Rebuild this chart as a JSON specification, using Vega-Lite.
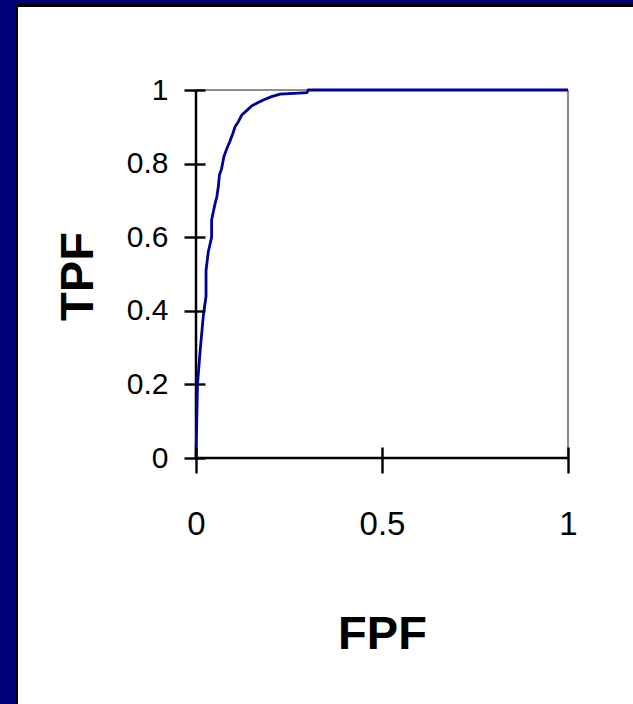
{
  "$schema": "https://vega.github.io/schema/vega-lite/v6.json",
  "width": 372,
  "height": 368,
  "autosize": {"type": "none"},
  "padding": {"left": 196, "top": 90, "right": 65, "bottom": 246},
  "background": "#00007a",
  "config": {"view": {"stroke": null}, "font": "Liberation Sans"},
  "datasets": {
    "roc": [
      {"i": 0, "fpf": 0.0, "tpf": 0.0},
      {"i": 1, "fpf": 0.002, "tpf": 0.1},
      {"i": 2, "fpf": 0.004, "tpf": 0.2},
      {"i": 3, "fpf": 0.011, "tpf": 0.29},
      {"i": 4, "fpf": 0.02, "tpf": 0.39},
      {"i": 5, "fpf": 0.027, "tpf": 0.44},
      {"i": 6, "fpf": 0.027, "tpf": 0.51},
      {"i": 7, "fpf": 0.033, "tpf": 0.56},
      {"i": 8, "fpf": 0.042, "tpf": 0.6},
      {"i": 9, "fpf": 0.042, "tpf": 0.647},
      {"i": 10, "fpf": 0.051, "tpf": 0.69},
      {"i": 11, "fpf": 0.056, "tpf": 0.71},
      {"i": 12, "fpf": 0.06, "tpf": 0.737},
      {"i": 13, "fpf": 0.063, "tpf": 0.769},
      {"i": 14, "fpf": 0.069, "tpf": 0.787},
      {"i": 15, "fpf": 0.075, "tpf": 0.819},
      {"i": 16, "fpf": 0.083, "tpf": 0.841},
      {"i": 17, "fpf": 0.091, "tpf": 0.86},
      {"i": 18, "fpf": 0.099, "tpf": 0.882},
      {"i": 19, "fpf": 0.105, "tpf": 0.9},
      {"i": 20, "fpf": 0.114, "tpf": 0.914},
      {"i": 21, "fpf": 0.123, "tpf": 0.932},
      {"i": 22, "fpf": 0.136, "tpf": 0.944},
      {"i": 23, "fpf": 0.15, "tpf": 0.957},
      {"i": 24, "fpf": 0.167, "tpf": 0.966},
      {"i": 25, "fpf": 0.181, "tpf": 0.973},
      {"i": 26, "fpf": 0.203, "tpf": 0.982},
      {"i": 27, "fpf": 0.226, "tpf": 0.989},
      {"i": 28, "fpf": 0.298, "tpf": 0.993},
      {"i": 29, "fpf": 0.302, "tpf": 1.0},
      {"i": 30, "fpf": 1.0, "tpf": 1.0}
    ]
  },
  "layer": [
    {
      "data": {"values": [{}]},
      "mark": {"type": "rect", "fill": "#000000"},
      "encoding": {
        "x": {"datum": -0.4839, "type": "quantitative", "scale": {"domain": [0, 1], "nice": false, "zero": false}},
        "x2": {"datum": 3},
        "y": {"datum": -0.9, "type": "quantitative", "scale": {"domain": [0, 1], "nice": false, "zero": false}},
        "y2": {"datum": 1.2337}
      }
    },
    {
      "data": {"values": [{}]},
      "mark": {"type": "rect", "fill": "#ffffff"},
      "encoding": {
        "x": {"datum": -0.4785, "type": "quantitative", "scale": {"domain": [0, 1], "nice": false, "zero": false}},
        "x2": {"datum": 3},
        "y": {"datum": -0.9, "type": "quantitative", "scale": {"domain": [0, 1], "nice": false, "zero": false}},
        "y2": {"datum": 1.2255}
      }
    },
    {
      "data": {"values": [{}]},
      "mark": {"type": "rule", "color": "#8f8f8f", "strokeWidth": 2.2},
      "encoding": {
        "x": {"datum": 0, "type": "quantitative", "scale": {"domain": [0, 1], "nice": false, "zero": false}},
        "x2": {"datum": 1},
        "y": {"datum": 1, "type": "quantitative", "scale": {"domain": [0, 1], "nice": false, "zero": false}}
      }
    },
    {
      "data": {"values": [{}]},
      "mark": {"type": "rule", "color": "#8f8f8f", "strokeWidth": 2.2},
      "encoding": {
        "x": {"datum": 1, "type": "quantitative", "scale": {"domain": [0, 1], "nice": false, "zero": false}},
        "y": {"datum": 0, "type": "quantitative", "scale": {"domain": [0, 1], "nice": false, "zero": false}},
        "y2": {"datum": 1}
      }
    },
    {
      "data": {"values": [{}]},
      "mark": {"type": "rule", "color": "#000000", "strokeWidth": 2.5},
      "encoding": {
        "x": {"datum": 0, "type": "quantitative", "scale": {"domain": [0, 1], "nice": false, "zero": false}},
        "y": {"datum": 0, "type": "quantitative", "scale": {"domain": [0, 1], "nice": false, "zero": false}},
        "y2": {"datum": 1}
      }
    },
    {
      "data": {"values": [{}]},
      "mark": {"type": "rule", "color": "#000000", "strokeWidth": 2.7},
      "encoding": {
        "x": {"datum": 0, "type": "quantitative", "scale": {"domain": [0, 1], "nice": false, "zero": false}},
        "x2": {"datum": 1},
        "y": {"datum": 0, "type": "quantitative", "scale": {"domain": [0, 1], "nice": false, "zero": false}}
      }
    },
    {
      "data": {"name": "roc"},
      "mark": {"type": "line", "color": "#000096", "strokeWidth": 2.8, "interpolate": "linear"},
      "encoding": {
        "order": {"field": "i", "type": "quantitative"},
        "x": {
          "field": "fpf",
          "type": "quantitative",
          "scale": {"domain": [0, 1], "nice": false, "zero": false},
          "axis": {
            "title": "FPF",
            "values": [0, 0.5, 1],
            "format": "~g",
            "domain": false,
            "grid": false,
            "offset": -11,
            "tickSize": 26,
            "tickWidth": 2.4,
            "tickColor": "#000000",
            "labelFont": "Liberation Sans",
            "labelFontSize": 33,
            "labelColor": "#000000",
            "labelPadding": 35,
            "labelFlush": false,
            "labelOverlap": false,
            "titleFont": "Liberation Sans",
            "titleFontSize": 47,
            "titleFontWeight": "bold",
            "titleColor": "#000000",
            "titleY": 201,
            "titleBaseline": "alphabetic",
            "zindex": 1
          }
        },
        "y": {
          "field": "tpf",
          "type": "quantitative",
          "scale": {"domain": [0, 1], "nice": false, "zero": false},
          "axis": {
            "title": "TPF",
            "values": [0, 0.2, 0.4, 0.6, 0.8, 1],
            "format": "~g",
            "domain": false,
            "grid": false,
            "offset": -9,
            "tickSize": 21,
            "tickWidth": 2.4,
            "tickColor": "#000000",
            "labelFont": "Liberation Sans",
            "labelFontSize": 30,
            "labelColor": "#000000",
            "labelPadding": 16,
            "labelFlush": false,
            "labelOverlap": false,
            "titleFont": "Liberation Sans",
            "titleFontSize": 47,
            "titleFontWeight": "bold",
            "titleColor": "#000000",
            "titleAngle": -90,
            "titleAlign": "center",
            "titleBaseline": "alphabetic",
            "titleX": -113,
            "titleY": 186,
            "zindex": 1
          }
        }
      }
    }
  ]
}
